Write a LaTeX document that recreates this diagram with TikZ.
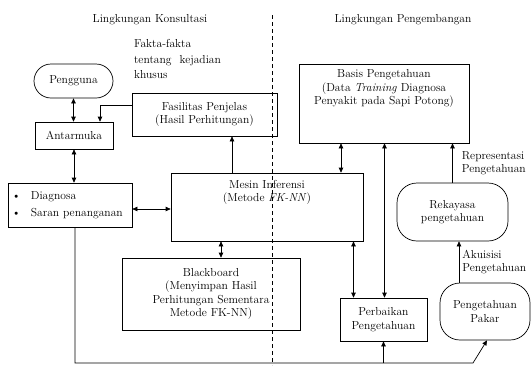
\documentclass[tikz,border=0pt]{standalone}
\usetikzlibrary{positioning,arrows.meta}

\begin{document}
\begin{tikzpicture}[x=1pt,y=-1pt]
\tikzstyle{every node}+=[inner sep=0pt, align=center, font=\fontsize{11.6}{13.5}\selectfont]
\tikzstyle{box}=[draw=black, line width=0.7pt]
\tikzstyle{arr}=[black, line width=0.7pt, -{Triangle[length=5pt,width=4.5pt]}]
\tikzstyle{dbl}=[arr, {Triangle[length=5pt,width=4.5pt]}-{Triangle[length=5pt,width=4.5pt]}]
\useasboundingbox (0,0) rectangle (531,365);
% headings and the dashed border
\node (konsul) at (150,20) {Lingkungan Konsultasi};
\node (kembang) at (403,20) {Lingkungan Pengembangan};
\coordinate (dtop) at (272,15);
\coordinate (dbot) at (272,365);
\draw [black, line width=0.6pt, dash pattern=on 4pt off 3pt] (dtop) -- (dbot);
\node [align=left] (fakta) at (177.5,59) {Fakta-fakta\\[2pt]tentang\hspace{8pt}kejadian\\[2pt]khusus};
% left side
\node [box, rounded corners=17pt, minimum width=79pt, minimum height=34pt] (pengguna) at (73.5,81) {Pengguna};
\node [box, minimum width=78pt, minimum height=27pt] (antarmuka) at (74,135.5) {Antarmuka};
\node [box, minimum width=145pt, minimum height=43pt] (fasilitas) at (204.5,114.5) {Fasilitas Penjelas\\(Hasil Perhitungan)};
\node [box, align=left, text width=116pt, inner xsep=4pt, minimum height=44pt] (diagnosa) at (70,205) {\textbullet\hspace{10pt}Diagnosa\\[4pt]\textbullet\hspace{10pt}Saran penanganan};
\node [box, minimum width=192pt, minimum height=68pt] (mesin) at (267,207) {};
\node [below=7pt of mesin.north] (mesintxt) {Mesin Inferensi\\(Metode \textit{FK-NN})};
\node [box, minimum width=178pt, minimum height=72pt] (blackboard) at (211,294) {Blackboard\\(Menyimpan Hasil\\Perhitungan Sementara\\Metode FK-NN)};
% right side
\node [box, minimum width=170pt, minimum height=79pt] (basis) at (384,103.5) {};
\node [below=6pt of basis.north] (basistxt) {Basis Pengetahuan\\(Data \textit{Training} Diagnosa\\Penyakit pada Sapi Potong)};
\node [box, minimum width=87pt, minimum height=43pt] (perbaikan) at (383.5,319.5) {Perbaikan\\Pengetahuan};
\node [box, rounded corners=20pt, minimum width=111pt, minimum height=58pt] (rekayasa) at (452.5,212) {Rekayasa\\pengetahuan};
\node [box, rounded corners=20pt, minimum width=90pt, minimum height=57pt] (pakar) at (485,311.5) {Pengetahuan\\Pakar};
% connectors
\draw [dbl] (pengguna.south) -- (pengguna.south |- antarmuka.north);
\draw [arr] ([yshift=9.5pt]fasilitas.west) -| ([xshift=26pt]antarmuka.north);
\draw [dbl] (antarmuka.south) -- (antarmuka.south |- diagnosa.north);
\draw [dbl] ([yshift=-4pt]diagnosa.east) -- ([yshift=-4pt]diagnosa.east -| mesin.west);
\draw [arr] ([xshift=-35pt]mesin.north) -- ([xshift=-35pt]mesin.north |- fasilitas.south);
\draw [dbl] ([xshift=10pt]blackboard.north) -- ([xshift=10pt]blackboard.north |- mesin.south);
\draw [dbl] ([xshift=-43pt]basis.south) -- ([xshift=-43pt]basis.south |- mesin.north);
\draw [dbl] ([xshift=1pt]perbaikan.north |- basis.south) -- ([xshift=1pt]perbaikan.north);
\draw [dbl] ([xshift=-30pt]perbaikan.north) -- ([xshift=-30pt]perbaikan.north |- mesin.south);
\draw [arr] (rekayasa.north) -- (rekayasa.north |- basis.south) node [midway, right=9pt, align=left] {Representasi\\Pengetahuan};
\draw [arr] ([xshift=-26pt]pakar.north) -- ([xshift=-26pt]pakar.north |- rekayasa.south) node [midway, right=3pt, align=left] {Akuisisi\\Pengetahuan};
% feedback line along the bottom
\coordinate (bkanan) at (473,363);
\draw [arr] ([xshift=5pt]diagnosa.south) |- (bkanan) -- ([xshift=2pt]pakar.south);
\draw [arr] (perbaikan.south |- bkanan) -- (perbaikan.south);
\end{tikzpicture}
\end{document}
